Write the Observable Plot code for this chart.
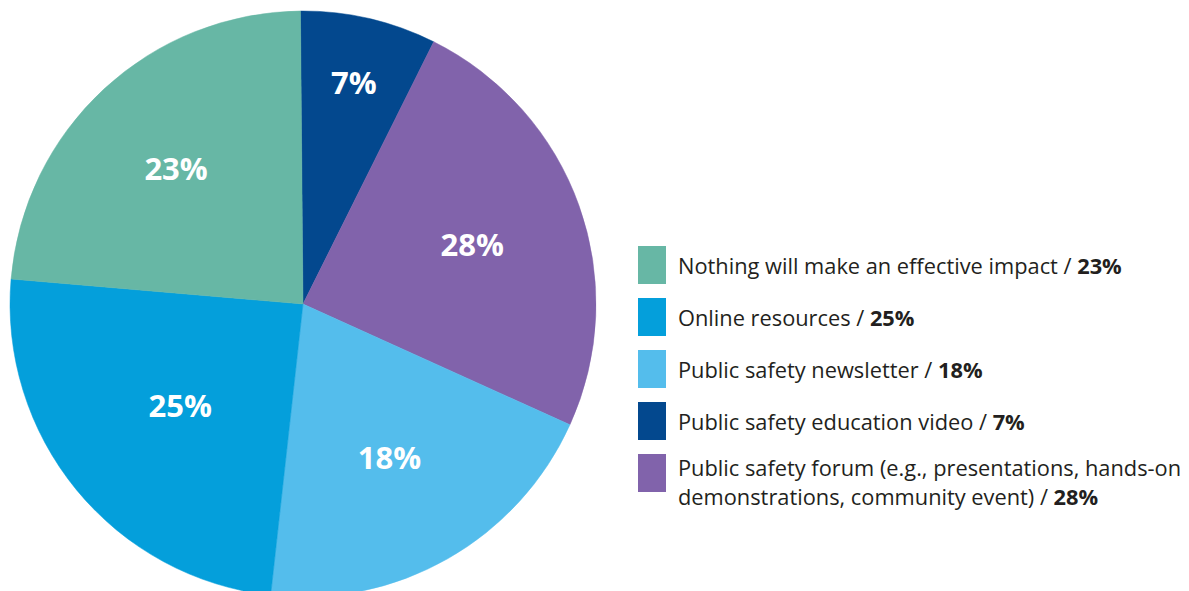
<!DOCTYPE html>
<html>
<head>
<meta charset="utf-8">
<script src="https://cdn.jsdelivr.net/npm/d3@7"></script>
<script src="https://cdn.jsdelivr.net/npm/@observablehq/plot@0.6"></script>
<style>
  html, body { margin: 0; padding: 0; background: #fff; }
  #wrap { position: relative; width: 1189px; height: 591px; overflow: hidden; font-family: "Open Sans", sans-serif; }
  #chart { position: absolute; left: 0; top: 0; }
  #legend { position: absolute; left: 638px; top: 246px; display: flex; flex-direction: column; gap: 14px; }
  .row { display: flex; align-items: center; }
  .row.multi { align-items: flex-start; }
  .sw { width: 28px; height: 38px; flex: none; }
  .txt { margin-left: 12px; font-size: 21.8px; line-height: 29px; color: #231f20; white-space: nowrap; }
  .row.multi .txt { margin-top: -1px; }
  .txt b { font-weight: 700; }
</style>
</head>
<body>
<div id="wrap">
  <div id="chart"></div>
  <div id="legend"></div>
</div>
<script>
// Categories in legend order
const categories = [
  "Nothing will make an effective impact",
  "Online resources",
  "Public safety newsletter",
  "Public safety education video",
  "Public safety forum (e.g., presentations, hands-on demonstrations, community event)"
];
// Printed percentages
const percentLabels = [23, 25, 18, 7, 28];
// Slice sizes as drawn in the source picture (measured angles, in %)
const sliceShares = [23.5, 24.6, 20.0, 7.5, 24.4];
const colors = ["#67b7a5", "#049fdb", "#54bdec", "#03488e", "#8163ab"];
// Clockwise order of slices starting at 12 o'clock
const pieOrder = [
  "Public safety education video",
  "Public safety forum (e.g., presentations, hands-on demonstrations, community event)",
  "Public safety newsletter",
  "Online resources",
  "Nothing will make an effective impact"
];

// Layout constants
const cx = 303, cy = 304, R = 293;
const startAngle = -0.5 * Math.PI / 180;
const labelRadius = [0.635, 0.54, 0.6, 0.78, 0.615]; // relative, legend order

const data = categories.map((c, i) => ({
  category: c, label: percentLabels[i], share: sliceShares[i], color: colors[i], lr: labelRadius[i]
}));
const ordered = pieOrder.map(c => data.find(d => d.category === c));
const arcs = d3.pie().sort(null).value(d => d.share)
  .startAngle(startAngle).endAngle(startAngle + 2 * Math.PI)(ordered);
const labelData = arcs.map(a => {
  const mid = (a.startAngle + a.endAngle) / 2;
  return { text: a.data.label + "%", x: a.data.lr * Math.sin(mid), y: a.data.lr * Math.cos(mid) };
});

const pieMark = (index, scales) => {
  const x0 = scales.x(0), y0 = scales.y(0), r = scales.x(1) - scales.x(0);
  const g = d3.create("svg:g").attr("transform", `translate(${x0},${y0})`);
  const arcGen = d3.arc().innerRadius(0).outerRadius(r);
  g.selectAll("path").data(arcs).join("path")
    .attr("d", arcGen)
    .attr("fill", d => d.data.color)
    .attr("stroke", d => d.data.color)
    .attr("stroke-width", 0.5);
  return g.node();
};

const plot = Plot.plot({
  width: 620,
  height: 591,
  margin: 0,
  style: { fontFamily: "Open Sans, sans-serif", background: "transparent" },
  x: { type: "linear", domain: [-1, 1], range: [cx - R, cx + R], axis: null },
  y: { type: "linear", domain: [-1, 1], range: [cy + R, cy - R], axis: null },
  marks: [
    pieMark,
    Plot.text(labelData, {
      x: "x", y: "y", text: "text",
      fill: "white", fontSize: 31, fontWeight: "bold",
      textAnchor: "middle", dy: 2, dx: -1, style: "letter-spacing:1.5px"
    })
  ]
});
document.getElementById("chart").append(plot);

const legend = d3.select("#legend");
data.forEach((d, i) => {
  const row = legend.append("div").attr("class", "row" + (i === 4 ? " multi" : ""));
  row.append("div").attr("class", "sw").style("background", d.color);
  const t = row.append("div").attr("class", "txt");
  if (i === 4) {
    t.html("Public safety forum (e.g., presentations, hands-on<br>demonstrations, community event) / <b>" + d.label + "%</b>");
  } else {
    t.html(d.category + " / <b>" + d.label + "%</b>");
  }
});
</script>
</body>
</html>
